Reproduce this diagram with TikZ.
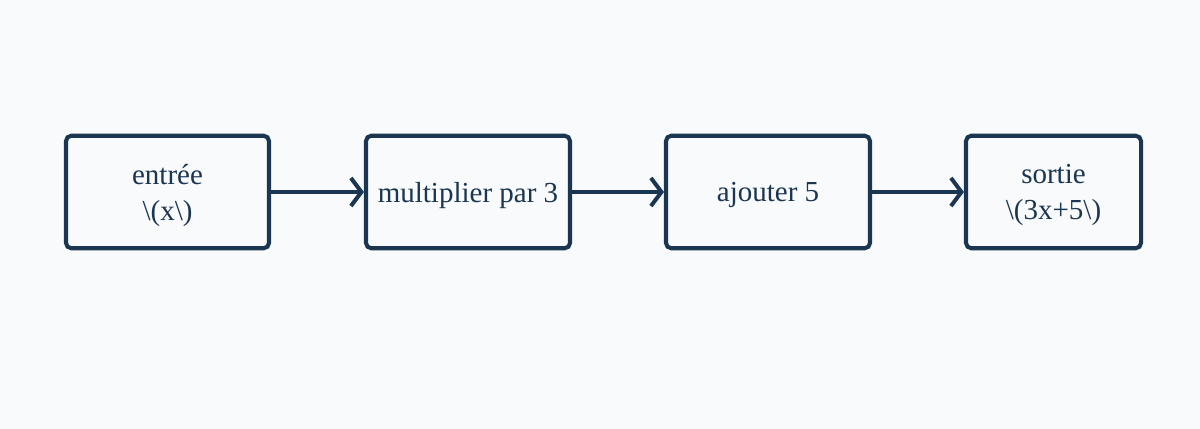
\documentclass[tikz,border=0pt]{standalone}
\usepackage{fontspec}
\setmainfont{Liberation Serif}
\usetikzlibrary{arrows.meta}
\definecolor{navy}{HTML}{1B3651}
\definecolor{paper}{HTML}{F8FAFC}

\begin{document}
\begin{tikzpicture}[>={Straight Barb[length=6pt,width=16pt]},line width=2.3pt]
\tikzset{stage/.style={draw=navy,rounded corners=3pt,minimum height=2.25cm,text=navy,align=center,font=\fontsize{16.5}{20.5}\selectfont,inner sep=2pt,text depth=0pt}};
\fill[paper] (0,0) rectangle (24,-8.58);
\useasboundingbox (0,0) rectangle (24,-8.58);
\node[stage,minimum width=4.06cm] (input) at (3.35,-3.84) {entrée\\\textbackslash(x\textbackslash)};
\node[stage,minimum width=4.08cm] (times) at (9.36,-3.84) {multiplier par 3};
\node[stage,minimum width=4.08cm] (plus) at (15.36,-3.84) {ajouter 5};
\node[stage,minimum width=3.5cm] (output) at (21.07,-3.84) {sortie\\\textbackslash(3x+5\textbackslash)};
\draw[->,navy] (input) -- (times);
\draw[->,navy] (times) -- (plus);
\draw[->,navy] (plus) -- (output);
\end{tikzpicture}
\end{document}
